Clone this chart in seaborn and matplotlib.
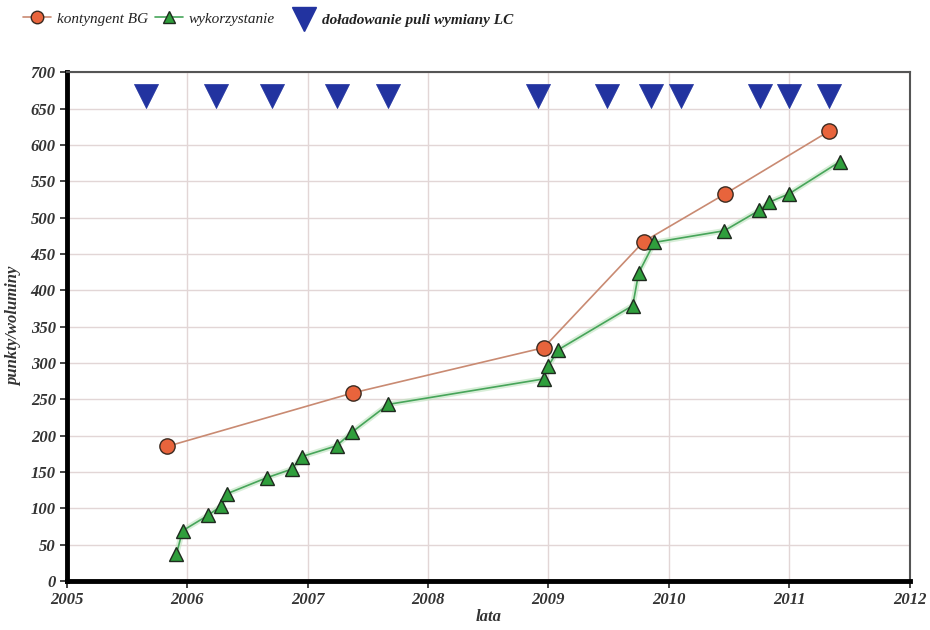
import numpy as np
import pandas as pd
import matplotlib
matplotlib.use("Agg")
import matplotlib.pyplot as plt
from matplotlib.lines import Line2D
import seaborn as sns

# kontyngent BG
kont_x = [2005.83, 2007.38, 2008.96, 2009.79, 2010.47, 2011.33]
kont_y = [185, 259, 321, 467, 533, 619]

# wykorzystanie
wyk_x = [2005.91, 2005.91, 2005.96, 2006.17, 2006.28, 2006.33, 2006.66, 2006.87,
         2006.95, 2007.24, 2007.37, 2007.67, 2008.96, 2009.00, 2009.08, 2009.70,
         2009.75, 2009.88, 2010.46, 2010.75, 2010.83, 2011.00, 2011.42]
wyk_y = [29, 45, 69, 90, 103, 120, 142, 154, 171, 186, 205, 243, 278, 296, 318,
         379, 424, 466, 482, 510, 521, 533, 577]

# doladowanie puli wymiany LC
dol_x = [2005.66, 2006.24, 2006.70, 2007.24, 2007.67, 2008.91, 2009.49, 2009.85,
         2010.10, 2010.76, 2011.00, 2011.33]
dol_y = [667] * len(dol_x)

x_ticks = [2005, 2006, 2007, 2008, 2009, 2010, 2011, 2012]
y_ticks = list(range(0, 701, 50))

sns.set_style("white")
plt.rcParams['font.family'] = ['Liberation Serif', 'DejaVu Serif']

c_or = "#e8643c"
c_or_line = "#c98a72"
c_gr = "#2f9e3c"
c_gr_line = "#47a55a"
c_bl = "#2233a0"

fig = plt.figure(figsize=(9.3, 6.3), dpi=100)
ax = fig.add_axes([0.072, 0.078, 0.906, 0.807])

kont = pd.DataFrame({"x": kont_x, "y": kont_y})
wyk = pd.DataFrame({"x": wyk_x, "y": wyk_y})
dol = pd.DataFrame({"x": dol_x, "y": dol_y})

# soft glow under green line
sns.lineplot(data=wyk, x="x", y="y", sort=False, ax=ax, color="#bfe3bf",
             linewidth=4, alpha=0.6, zorder=2)
sns.lineplot(data=kont, x="x", y="y", sort=False, ax=ax, color=c_or_line,
             linewidth=1.2, marker="o", markersize=11, markerfacecolor=c_or,
             markeredgecolor="#3a2a20", markeredgewidth=1.0, zorder=4)
sns.lineplot(data=wyk, x="x", y="y", sort=False, ax=ax, color=c_gr_line,
             linewidth=1.2, marker="^", markersize=10, markerfacecolor=c_gr,
             markeredgecolor="#1f2a1f", markeredgewidth=1.0, zorder=5)
sns.scatterplot(data=dol, x="x", y="y", ax=ax, marker="v", s=300,
                color=c_bl, edgecolor=c_bl, linewidth=0.5, zorder=6)

ax.set_xlim(2005, 2012)
ax.set_ylim(0, 700)
ax.set_xticks(x_ticks)
ax.set_yticks(y_ticks)
ax.grid(True, color="#e2d6d6", linewidth=1.0)
ax.set_axisbelow(True)

tick_font = dict(fontsize=12, fontweight="bold", fontstyle="italic", color="#333333")
ax.set_xticklabels([str(t) for t in x_ticks], **tick_font)
ax.set_yticklabels([str(t) for t in y_ticks], **tick_font)
ax.tick_params(axis="both", direction="out", length=5, width=1.2, color="#222222", pad=3)
ax.xaxis.set_ticks_position("bottom")
ax.yaxis.set_ticks_position("left")

for side in ["left", "bottom"]:
    ax.spines[side].set_linewidth(3.5)
    ax.spines[side].set_color("black")
for side in ["top", "right"]:
    ax.spines[side].set_linewidth(1.5)
    ax.spines[side].set_color("#555555")

ax.set_xlabel("lata", fontsize=12, fontstyle="italic", fontweight="bold", color="#333333", labelpad=1)
ax.set_ylabel("punkty/woluminy", fontsize=12, fontstyle="italic", fontweight="bold", color="#333333", labelpad=6)

# legends above the plot
h1 = Line2D([], [], color=c_or_line, marker="o", markersize=9, markerfacecolor=c_or,
            markeredgecolor="#3a2a20", linewidth=1.2)
h2 = Line2D([], [], color=c_gr_line, marker="^", markersize=8, markerfacecolor=c_gr,
            markeredgecolor="#1f2a1f", linewidth=1.2)
leg1 = fig.legend([h1, h2], ["kontyngent BG", "wykorzystanie"], loc="center left",
                  bbox_to_anchor=(0.01, 0.97), ncol=2, frameon=False,
                  prop=dict(family="Liberation Serif", style="italic", size=11),
                  handlelength=1.8, handletextpad=0.4, columnspacing=0.5)
h3 = Line2D([], [], color=c_bl, marker="v", markersize=17, linestyle="None")
leg2 = fig.legend([h3], ["doładowanie puli wymiany LC"], loc="center left",
                  bbox_to_anchor=(0.302, 0.968), frameon=False,
                  prop=dict(family="Liberation Serif", style="italic", weight="bold", size=11),
                  handlelength=1.2, handletextpad=0.6)
for t in leg1.get_texts() + leg2.get_texts():
    t.set_color("#222222")

fig.savefig("out.png", dpi=100)
